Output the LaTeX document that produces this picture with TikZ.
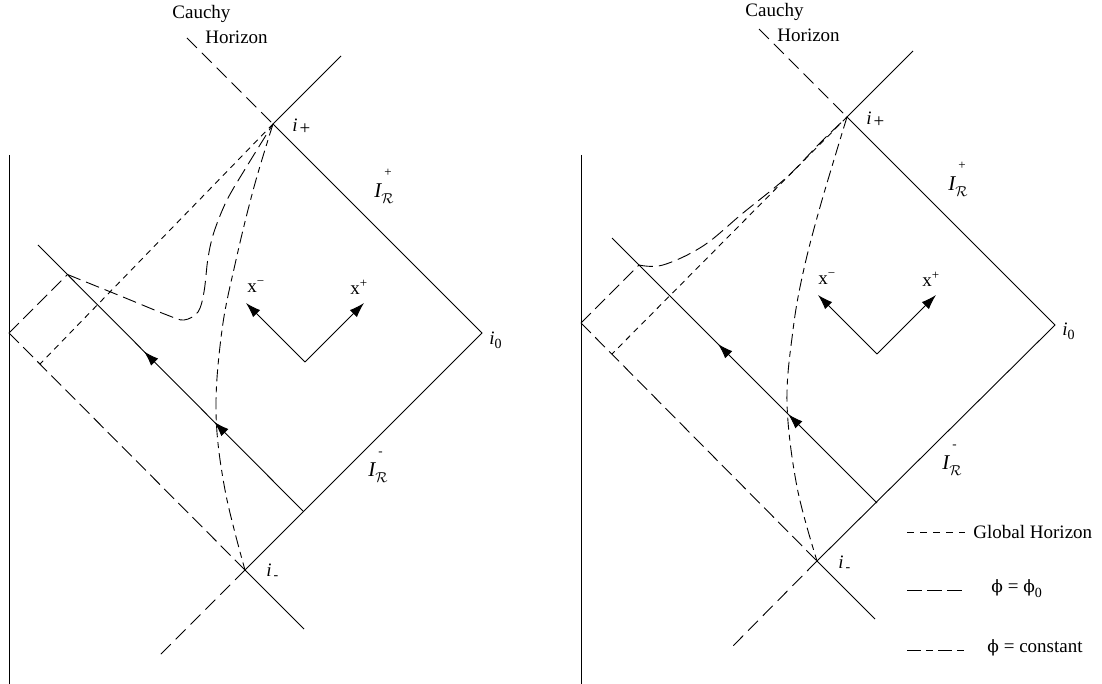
\documentclass[tikz,border=0pt]{standalone}
\usepackage{fontspec}
\setmainfont{Liberation Serif}
\newfontfamily\phifont{DejaVu Serif}
\usetikzlibrary{arrows.meta,decorations.markings}
\begin{document}
\begin{tikzpicture}[x=1pt,y=-1pt,line width=0.9pt,
  lbl/.style={inner sep=0pt,font=\fontsize{19}{22}\selectfont},
  glob/.style={dash pattern=on 6pt off 5pt},
  phizero/.style={dash pattern=on 14pt off 6pt},
  phiconst/.style={dash pattern=on 12pt off 5pt on 6pt off 5pt},
  ray/.style={dash pattern=on 14pt off 7pt},
  axis/.style={-{Latex[length=15pt,width=10pt]}},
  flow/.style={postaction={decorate},decoration={markings,
     mark=at position 0.335 with {\arrow{Latex[length=15pt,width=10pt]}},
     mark=at position 0.60 with {\arrow{Latex[length=15pt,width=10pt]}}}}
]
\useasboundingbox (0,0) rectangle (1102,684);
\newcommand{\iR}[1]{{\fontsize{21}{24}\selectfont\itshape I}\rlap{\kern3pt\raisebox{21pt}{\fontsize{13}{13}\selectfont #1}}\raisebox{-6pt}{\fontsize{14}{14}\selectfont$\mathcal{R}$}}
% ---------------- LEFT PANEL ----------------
\coordinate (Lip) at (273,124);
\coordinate (Ltop) at (341,56);
\coordinate (Li0) at (482,333);
\coordinate (Lim) at (245,570);
\coordinate (Lbot) at (304,629);
\coordinate (Lext) at (157,658);
\coordinate (Lch) at (187,38);
\coordinate (LwT) at (9,155);
\coordinate (LwB) at (9,684);
\coordinate (LW) at (9,333);
\coordinate (LS) at (67.5,274.5);
\coordinate (Lm1) at (38,245);
\coordinate (Lm2) at (303,511);
\coordinate (LH) at (40,364);
\coordinate (Lv) at (305,362);
\coordinate (Lxm) at (246,303);
\coordinate (Lxp) at (364,303);

\draw (LwT) -- (LwB);
\draw (Ltop) -- (Lip) -- (Li0) -- (Lim) -- (Lbot);
\draw[ray] (Lim) -- (Lext);
\draw[ray] (Lch) -- (Lip);
\draw[flow] (Lm2) -- (Lm1);
\draw[phizero] (LW) -- (LS);
\draw[phizero] (LW) -- (Lim);
\draw[glob] (Lip) -- (LH);
\draw[phizero] plot[smooth,tension=0.55] coordinates {(LS) (123,297) (167,315) (184,320) (198,312) (204,292) (208,258) (214,232) (227,200) (247,166) (Lip)};
\draw[phiconst] plot[smooth,tension=0.6] coordinates {(Lip) (254,187) (236,260) (222,330) (216,412) (225,490) (Lim)};
\draw[axis] (Lv) -- (Lxm);
\draw[axis] (Lv) -- (Lxp);

\node[lbl,anchor=west] (cauL) at (172,14) {Cauchy};
\node[lbl,anchor=west] (horL) at (205,37) {Horizon};
\node[lbl,anchor=west] (ipL) at (292,127) {{\itshape i}\kern2pt\raisebox{-3pt}{+}};
\node[lbl,anchor=west] (i0L) at (489,340) {{\itshape i}\raisebox{-4pt}{\fontsize{14}{14}\selectfont 0}};
\node[lbl,anchor=west] (imL) at (266,572) {{\itshape i}\kern2pt\raisebox{-3pt}{\fontsize{14}{14}\selectfont -}};
\node[lbl,anchor=base west] (IpL) at (374,198) {\iR{+}};
\node[lbl,anchor=base west] (ImL) at (368,476) {\iR{-}};
\node[lbl,anchor=west] (xmL) at (247,287) {x\raisebox{7pt}{\fontsize{13}{13}\selectfont −}};
\node[lbl,anchor=west] (xpL) at (350,287) {x\raisebox{7pt}{\fontsize{13}{13}\selectfont +}};

% ---------------- RIGHT PANEL ----------------
\coordinate (Rip) at (847,117);
\coordinate (Rtop) at (913,51);
\coordinate (Ri0) at (1055,325);
\coordinate (Rim) at (817,561);
\coordinate (Rbot) at (875,619);
\coordinate (Rext) at (729,650);
\coordinate (Rch) at (759,29);
\coordinate (RwT) at (581,155);
\coordinate (RwB) at (581,684);
\coordinate (RW) at (581,323);
\coordinate (RS) at (639,265);
\coordinate (Rm1) at (612,238);
\coordinate (Rm2) at (877,503);
\coordinate (RH) at (612,354);
\coordinate (Rv) at (877,354);
\coordinate (Rxm) at (818,295);
\coordinate (Rxp) at (936,295);

\draw (RwT) -- (RwB);
\draw (Rtop) -- (Rip) -- (Ri0) -- (Rim) -- (Rbot);
\draw[ray] (Rim) -- (Rext);
\draw[ray] (Rch) -- (Rip);
\draw[flow] (Rm2) -- (Rm1);
\draw[phizero] (RW) -- (RS);
\draw[phizero] (RW) -- (Rim);
\draw[glob] (Rip) -- (RH);
\draw[phizero] plot[smooth,tension=0.6] coordinates {(RS) (663,265) (703,246) (743,213) (787,177) (820,143) (Rip)};
\draw[phiconst] plot[smooth,tension=0.6] coordinates {(Rip) (820,207) (803,273) (793,330) (787,403) (797,487) (Rim)};
\draw[axis] (Rv) -- (Rxm);
\draw[axis] (Rv) -- (Rxp);

\node[lbl,anchor=west] (cauR) at (745,12) {Cauchy};
\node[lbl,anchor=west] (horR) at (777,35) {Horizon};
\node[lbl,anchor=west] (ipR) at (866,120) {{\itshape i}\kern2pt\raisebox{-3pt}{+}};
\node[lbl,anchor=west] (i0R) at (1062,331) {{\itshape i}\raisebox{-4pt}{\fontsize{14}{14}\selectfont 0}};
\node[lbl,anchor=west] (imR) at (838,564) {{\itshape i}\kern2pt\raisebox{-3pt}{\fontsize{14}{14}\selectfont -}};
\node[lbl,anchor=base west] (IpR) at (948,191) {\iR{+}};
\node[lbl,anchor=base west] (ImR) at (942,469) {\iR{-}};
\node[lbl,anchor=west] (xmR) at (818,279) {x\raisebox{7pt}{\fontsize{13}{13}\selectfont −}};
\node[lbl,anchor=west] (xpR) at (922,279) {x\raisebox{7pt}{\fontsize{13}{13}\selectfont +}};

% ---------------- LEGEND ----------------
\coordinate (G1) at (907,532); \coordinate (G2) at (965,532);
\coordinate (P1) at (907,590); \coordinate (P2) at (962,590);
\coordinate (C1) at (907,650); \coordinate (C2) at (965,650);
\draw[dash pattern=on 7pt off 6pt] (G1) -- (G2);
\draw[dash pattern=on 15pt off 5pt] (P1) -- (P2);
\draw[dash pattern=on 14pt off 5pt on 7pt off 5pt] (C1) -- (C2);
\node[lbl,anchor=west] (gl) at (973,532) {Global Horizon};
\node[lbl,anchor=west] (pz) at (991,589) {{\phifont\fontsize{17}{20}\selectfont ϕ} = {\phifont\fontsize{17}{20}\selectfont ϕ}\raisebox{-5pt}{\fontsize{14}{14}\selectfont 0}};
\node[lbl,anchor=west] (pc) at (987,648) {{\phifont\fontsize{17}{20}\selectfont ϕ} = constant};
\end{tikzpicture}
\end{document}
